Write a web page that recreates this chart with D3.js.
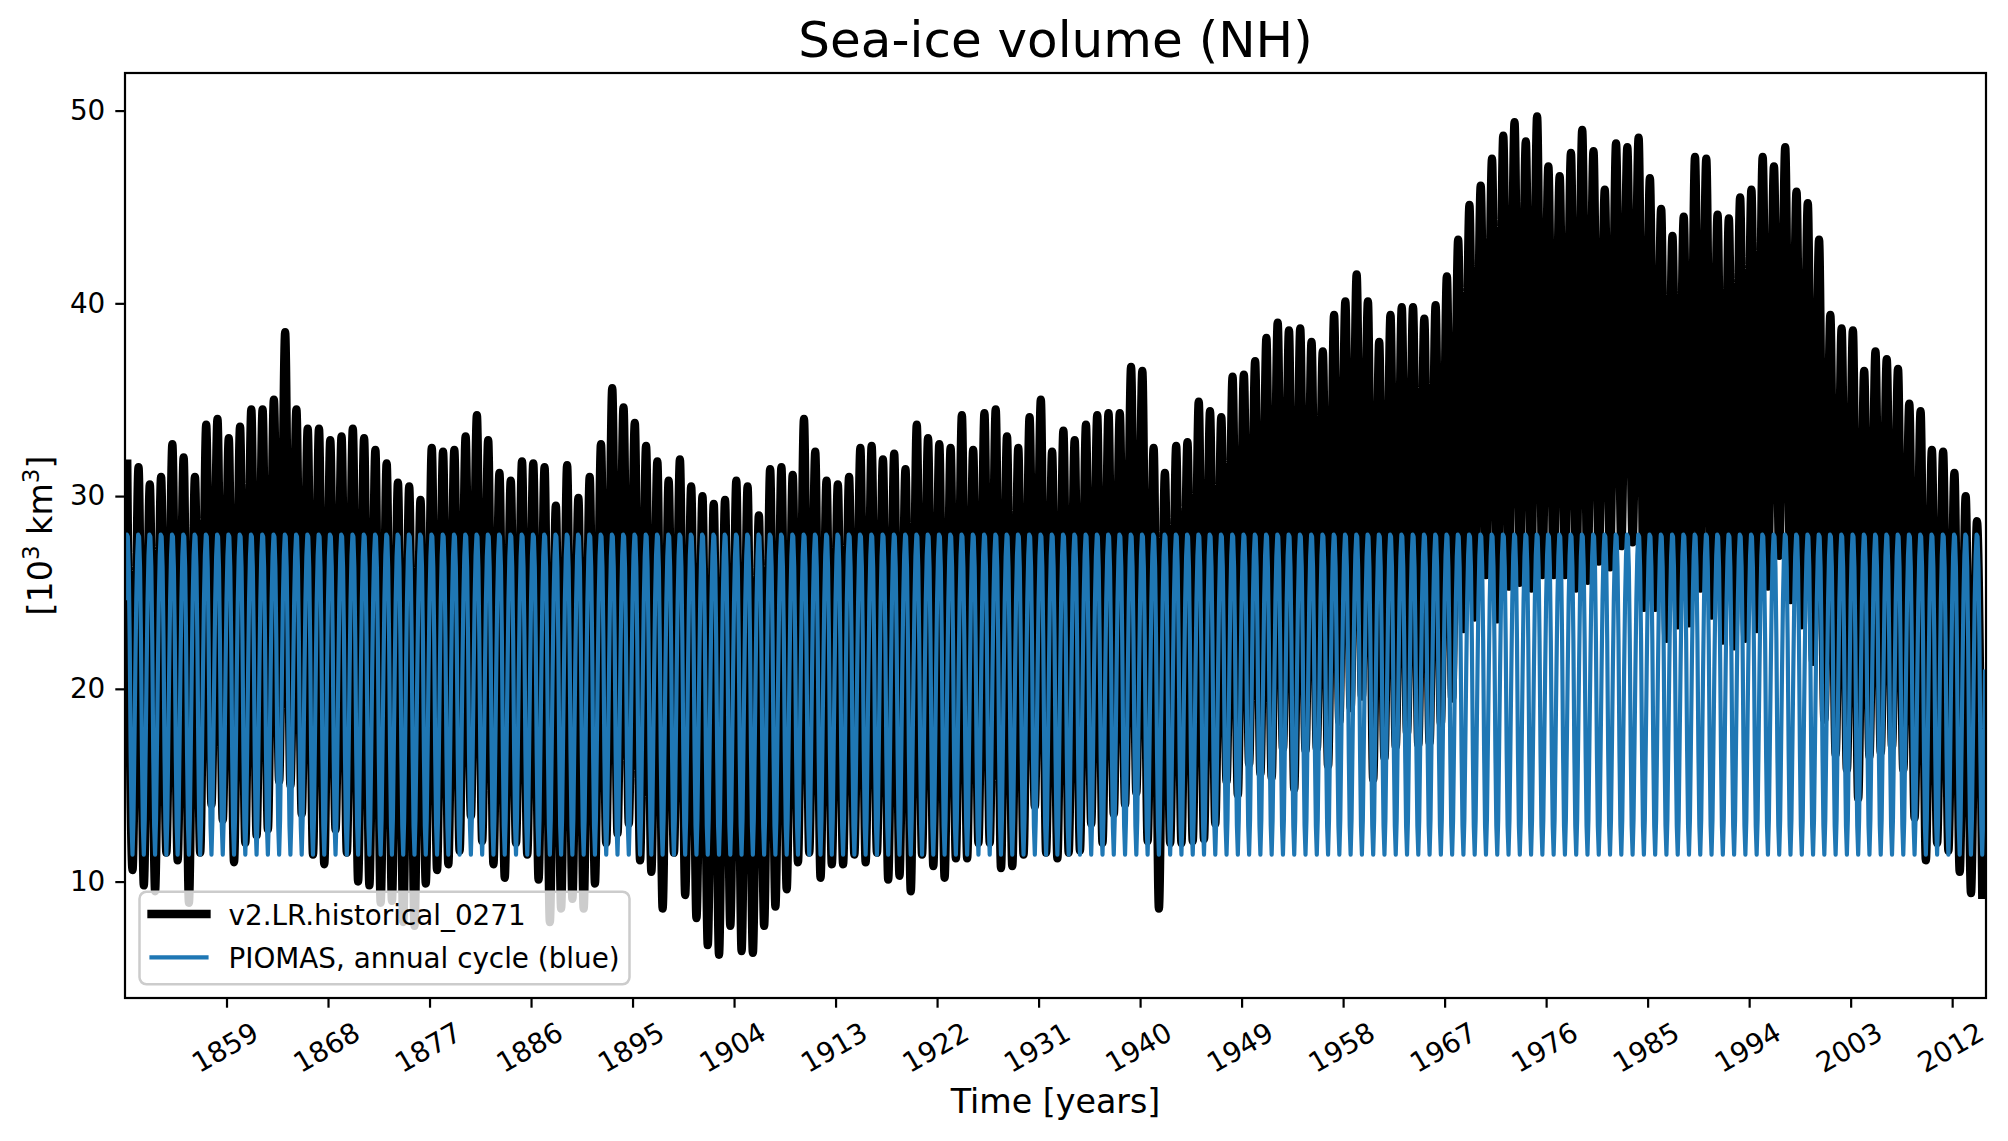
<!DOCTYPE html>
<html>
<head>
<meta charset="utf-8">
<script src="https://cdn.jsdelivr.net/npm/d3@7"></script>
<style>
  body { margin: 0; background: #fff; }
  text { font-family: "DejaVu Sans", sans-serif; }
</style>
</head>
<body>
<script>
const width = 2008;
const height = 1141;
const margin = {left: 125, right: 22, top: 73, bottom: 143};

// years of the model run, Jan 1850 .. Dec 2014
const startYear = 1850;
const years = d3.range(1850, 2015);

// v2.LR.historical_0271, annual maximum (spring) in 10^3 km^3
const annualMax = [
  31.9, 31.5, 30.6, 31.0, 32.7, 32.0, 31.0, 33.7, 34.0, 33.0,
  33.6, 34.5, 34.5, 35.0, 38.5, 34.5, 33.5, 33.5, 32.9, 33.1,
  33.5, 33.0, 32.4, 31.7, 30.7, 30.5, 29.8, 32.5, 32.3, 32.4,
  33.1, 34.2, 32.9, 31.2, 30.8, 31.8, 31.7, 31.5, 29.5, 31.6,
  29.9, 31.0, 32.7, 35.6, 34.6, 33.8, 32.6, 31.8, 30.8, 31.9,
  30.5, 30.0, 29.6, 29.8, 30.8, 30.5, 29.0, 31.4, 31.5, 31.1,
  34.0, 32.3, 30.8, 30.6, 31.0, 32.5, 32.6, 31.9, 32.2, 31.4,
  33.7, 33.0, 32.7, 32.5, 34.2, 32.4, 34.3, 34.5, 33.1, 32.5,
  34.1, 35.0, 32.3, 33.4, 32.9, 33.7, 34.2, 34.3, 34.3, 36.7,
  36.5, 32.5, 31.2, 32.6, 32.8, 34.9, 34.4, 34.1, 36.2, 36.3,
  37.0, 38.2, 39.0, 38.6, 38.7, 38.0, 37.5, 39.4, 40.1, 41.5,
  40.1, 38.0, 39.4, 39.8, 39.8, 39.2, 39.9, 41.4, 43.3, 45.1,
  46.1, 47.5, 48.7, 49.4, 48.4, 49.7, 47.1, 46.6, 47.8, 49.0,
  47.9, 45.9, 48.3, 48.1, 48.6, 46.5, 44.9, 43.5, 44.5, 47.6,
  47.5, 44.6, 44.4, 45.5, 45.9, 47.6, 47.1, 48.1, 45.8, 45.2,
  43.3, 39.4, 38.7, 38.6, 36.5, 37.5, 37.1, 36.6, 34.8, 34.4,
  32.4, 32.3, 31.2, 30.0, 28.7
];

// v2.LR.historical_0271, annual minimum (September) in 10^3 km^3
const annualMin = [
  10.6, 9.8, 9.5, 11.5, 11.1, 8.9, 11.5, 14.0, 13.2, 11.0,
  12.0, 12.4, 12.7, 15.2, 15.0, 13.5, 11.4, 10.9, 12.7, 11.5,
  10.0, 9.8, 8.9, 9.0, 7.9, 7.7, 9.9, 10.6, 10.9, 11.6,
  13.4, 12.1, 10.9, 10.2, 12.0, 11.4, 10.1, 7.9, 8.6, 9.1,
  8.6, 9.9, 12.0, 12.5, 13.0, 11.1, 10.5, 8.6, 11.5, 9.3,
  8.1, 6.7, 6.2, 7.7, 6.4, 6.3, 7.7, 8.7, 9.6, 11.0,
  11.5, 10.2, 10.9, 10.9, 11.4, 11.0, 11.5, 10.1, 10.3, 9.5,
  11.4, 10.8, 10.2, 11.2, 11.2, 12.0, 12.0, 10.7, 10.8, 11.4,
  13.9, 11.5, 11.2, 11.5, 11.6, 13.0, 12.0, 13.5, 14.0, 14.6,
  12.1, 8.6, 12.0, 12.0, 12.1, 12.2, 13.0, 15.2, 14.5, 16.1,
  15.6, 15.4, 16.9, 14.8, 16.8, 16.9, 16.0, 18.3, 19.0, 19.6,
  15.3, 16.4, 17.0, 17.7, 17.1, 17.2, 18.2, 19.5, 23.1, 23.7,
  25.9, 23.6, 25.3, 25.5, 25.2, 25.9, 25.9, 25.9, 25.2, 25.6,
  26.6, 26.3, 27.4, 27.6, 24.2, 24.2, 22.6, 23.3, 23.4, 25.2,
  23.8, 22.5, 22.2, 22.6, 23.1, 25.3, 26.9, 24.6, 23.3, 21.4,
  18.4, 16.6, 15.8, 14.3, 16.5, 16.7, 17.0, 15.8, 13.3, 11.1,
  12.0, 11.6, 10.5, 9.4, 9.1
];

// PIOMAS monthly climatology, Jan..Dec
const piomasCycle = [24.6, 26.9, 28.0, 27.9, 26.3, 22.5, 16.8, 12.9, 11.4, 13.2, 17.0, 21.0];

const xTickYears = [1859, 1868, 1877, 1886, 1895, 1904, 1913, 1922, 1931, 1940, 1949, 1958, 1967, 1976, 1985, 1994, 2003, 2012];
const yTicks = [10, 20, 30, 40, 50];

const seriesNames = ['v2.LR.historical_0271', 'PIOMAS, annual cycle (blue)'];

const svg = d3.select('body')
  .append('svg')
  .attr('width', width)
  .attr('height', height);

const xScale = d3.scaleLinear()
  .domain([startYear, 2015])
  .range([margin.left, width - margin.right]);

const yScale = d3.scaleLinear()
  .domain([3.96, 51.95])
  .range([height - margin.bottom, margin.top]);

svg.append('clipPath')
  .attr('id', 'plot-clip')
  .append('rect')
  .attr('x', margin.left)
  .attr('y', margin.top)
  .attr('width', width - margin.left - margin.right)
  .attr('height', height - margin.top - margin.bottom);

// model run: one spring maximum and one september minimum per year
const modelPoints = years.flatMap((y, i) => [[y + 0.2, annualMax[i]], [y + 0.667, annualMin[i]]]);
// observed cycle repeated every year
const piomasPoints = years.flatMap(y => piomasCycle.map((v, m) => [y + m / 12, v]));

const plot = svg.append('g').attr('clip-path', 'url(#plot-clip)');

plot.append('path')
  .datum(modelPoints)
  .attr('fill', 'none')
  .attr('stroke', '#000')
  .attr('stroke-width', 8.33)
  .attr('stroke-linejoin', 'round')
  .attr('d', d3.line().x(d => xScale(d[0])).y(d => yScale(d[1])).curve(d3.curveMonotoneX));

plot.append('path')
  .datum(piomasPoints)
  .attr('fill', 'none')
  .attr('stroke', '#1f77b4')
  .attr('stroke-width', 4.17)
  .attr('stroke-linejoin', 'round')
  .attr('d', d3.line().x(d => xScale(d[0])).y(d => yScale(d[1])));

// axes
const xAxis = svg.append('g')
  .attr('transform', `translate(0,${height - margin.bottom})`)
  .call(d3.axisBottom(xScale).tickValues(xTickYears).tickFormat(d3.format('d')).tickSize(9.7).tickSizeOuter(0));

xAxis.selectAll('text')
  .attr('y', null)
  .attr('dy', '0.35em')
  .attr('text-anchor', 'middle')
  .attr('transform', 'translate(-2,49.5) rotate(-30)');

const yAxis = svg.append('g')
  .attr('transform', `translate(${margin.left},0)`)
  .call(d3.axisLeft(yScale).tickValues(yTicks).tickSize(9.7).tickPadding(10).tickSizeOuter(0));

[xAxis, yAxis].forEach(ax => {
  ax.select('.domain').remove();
  ax.selectAll('line').attr('stroke', '#000').attr('stroke-width', 2.2);
  ax.selectAll('text')
    .attr('fill', '#000')
    .style('font-family', '"DejaVu Sans", sans-serif')
    .style('font-size', '27.8px');
});

svg.append('rect')
  .attr('x', margin.left)
  .attr('y', margin.top)
  .attr('width', width - margin.left - margin.right)
  .attr('height', height - margin.top - margin.bottom)
  .attr('fill', 'none')
  .attr('stroke', '#000')
  .attr('stroke-width', 2.2);

// titles
svg.append('text')
  .text('Sea-ice volume (NH)')
  .attr('x', xScale(2015 - 82.5))
  .attr('y', 57)
  .attr('text-anchor', 'middle')
  .style('font-size', '50px');

svg.append('text')
  .text('Time [years]')
  .attr('x', xScale(2015 - 82.5))
  .attr('y', 1113)
  .attr('text-anchor', 'middle')
  .style('font-size', '33.3px');

const yLabel = svg.append('text')
  .attr('transform', `translate(52,${(margin.top + height - margin.bottom) / 2}) rotate(-90)`)
  .attr('text-anchor', 'middle')
  .style('font-size', '33.3px');
yLabel.append('tspan').text('[10');
yLabel.append('tspan').text('3').attr('dy', -13).style('font-size', '23px');
yLabel.append('tspan').text(' km').attr('dy', 13);
yLabel.append('tspan').text('3').attr('dy', -13).style('font-size', '23px');
yLabel.append('tspan').text(']').attr('dy', 13);

// legend
const legend = svg.append('g');
legend.append('rect')
  .attr('x', 139.5)
  .attr('y', 891.7)
  .attr('width', 490)
  .attr('height', 92.6)
  .attr('rx', 7)
  .attr('fill', '#fff')
  .attr('fill-opacity', 0.8)
  .attr('stroke', '#cccccc')
  .attr('stroke-width', 2.5);

const legendStyles = [
  {color: '#000', width: 8.33},
  {color: '#1f77b4', width: 4.17}
];

seriesNames.forEach((name, i) => {
  const cy = 914 + i * 43.3;
  legend.append('line')
    .attr('x1', 151.5)
    .attr('x2', 206.5)
    .attr('y1', cy)
    .attr('y2', cy)
    .attr('stroke', legendStyles[i].color)
    .attr('stroke-width', legendStyles[i].width)
    .attr('stroke-linecap', 'square');
  legend.append('text')
    .text(name)
    .attr('x', 228.5)
    .attr('y', cy + 11)
    .style('font-size', '27.8px');
});
</script>
</body>
</html>
